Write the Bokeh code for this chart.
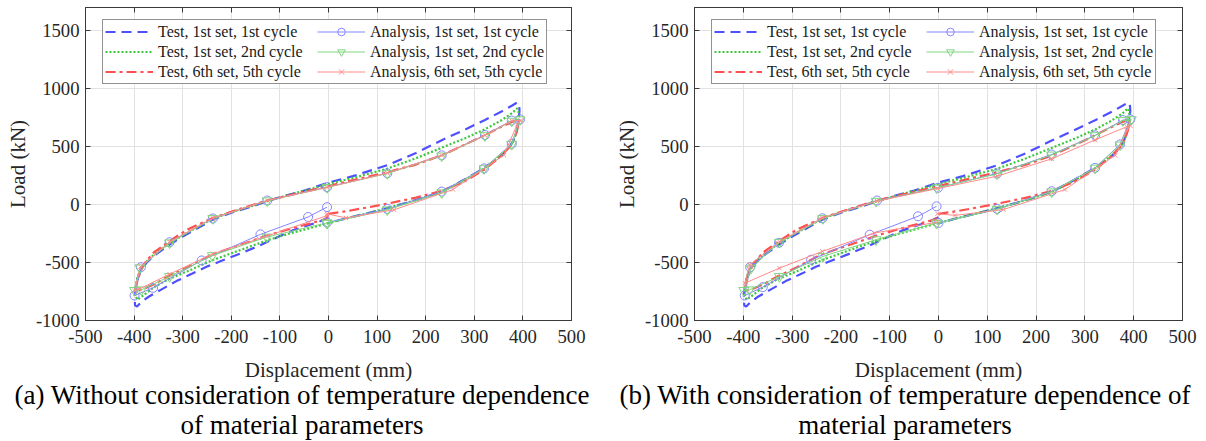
from bokeh.plotting import figure
from bokeh.models import Range1d, FixedTicker, LinearAxis, Legend, LegendItem, Div
from bokeh.layouts import row, column
from bokeh.embed import file_html
from bokeh.resources import INLINE

# ---------------- data ----------------
X_TICKS = [-500, -400, -300, -200, -100, 0, 100, 200, 300, 400, 500]
X_TICK_LABELS = ["-500", "-400", "-300", "-200", "-100", "0", "100", "200", "300", "400", "500"]
Y_TICKS = [-1000, -500, 0, 500, 1000, 1500]
Y_TICK_LABELS = ["-1000", "-500", "0", "500", "1000", "1500"]

SERIES_NAMES = ["Test, 1st set, 1st cycle", "Test, 1st set, 2nd cycle", "Test, 6th set, 5th cycle",
                "Analysis, 1st set, 1st cycle", "Analysis, 1st set, 2nd cycle", "Analysis, 6th set, 5th cycle"]

# Test curves (same in both panels)
test1_x = [0, -20, -45, -75, -110, -141, -180, -220, -250, -280, -313, -347, -370, -385, -394, -398, -399, -397,
           -392, -385, -372, -355, -327, -300, -270, -238, -200, -160, -126, -90, -50, 0, 50, 121, 180, 233, 280,
           322, 355, 378, 388, 392, 393, 391, 387, 380, 370, 355, 335, 320, 290, 260, 233, 200, 160, 121, 80, 40, 0]
test1_y = [-110, -150, -182, -225, -290, -352, -420, -485, -535, -595, -660, -740, -795, -840, -880, -870, -800,
           -720, -630, -560, -490, -430, -345, -275, -205, -130, -70, -20, 30, 75, 120, 190, 245, 340, 445, 555,
           645, 730, 800, 855, 880, 870, 810, 720, 630, 550, 480, 420, 360, 315, 240, 170, 112, 65, 15, -30, -75,
           -115, -160]

test2_x = [0, -40, -80, -127, -180, -239, -290, -330, -360, -383, -393, -397, -397, -393, -385, -370, -350, -327,
           -300, -270, -238, -200, -160, -126, -80, -40, 0, 60, 121, 180, 233, 280, 322, 355, 378, 388, 391, 391,
           389, 384, 377, 362, 342, 320, 290, 260, 233, 200, 160, 121, 80, 40, 0]
test2_y = [-160, -205, -250, -310, -390, -480, -575, -645, -715, -790, -820, -790, -710, -620, -550, -470, -400,
           -335, -265, -195, -122, -65, -15, 30, 85, 130, 178, 240, 310, 400, 490, 570, 650, 725, 790, 830, 800,
           740, 670, 590, 525, 450, 380, 310, 235, 170, 110, 65, 15, -30, -75, -115, -160]

test6_x = [0, 40, 80, 121, 180, 233, 280, 320, 350, 378, 388, 392, 382, 355, 322, 280, 233, 180, 121, 60, 0, -60,
           -126, -180, -238, -290, -327, -360, -380, -392, -398, -385, -360, -330, -290, -240, -180, -130, -80, -40,
           -5, 0]
test6_y = [-80, -55, -25, 8, 60, 118, 200, 300, 400, 520, 640, 730, 722, 670, 600, 515, 425, 345, 280, 220, 160,
           100, 35, -35, -115, -215, -315, -415, -515, -635, -745, -735, -690, -620, -540, -430, -345, -272, -210,
           -165, -125, -80]

# Analysis (a) without temperature dependence
a1_x = [-3, -42, -140, -261, -361, -399, -386, -327, -238, -126, -3, 121, 233, 322, 377, 394, 377, 320, 233, 121, -3]
a1_y = [-22, -107, -257, -482, -718, -785, -540, -325, -120, 35, 150, 270, 425, 600, 725, 735, 525, 312, 112, -38,
        -155]
a2_x = [-3, -127, -239, -327, -385, -399, -388, -327, -238, -126, -3, 121, 233, 322, 377, 394, 377, 320, 233, 121, -3]
a2_y = [-158, -280, -440, -620, -735, -740, -545, -330, -120, 33, 148, 268, 420, 595, 720, 732, 520, 310, 102, -45,
        -160]
a6_x = [-3, 36, 135, 256, 361, 388, 396, 377, 322, 233, 121, -3, -126, -238, -327, -387, -399, -390, -327, -238,
        -127, -3]
a6_y = [-80, -115, -45, 130, 426, 690, 725, 722, 598, 425, 272, 148, 35, -118, -322, -535, -745, -730, -600, -425,
        -272, -95]

# Analysis (b) with temperature dependence
b1_x = [-4, -42, -141, -261, -360, -397, -386, -327, -238, -126, -1, 120, 232, 321, 378, 393, 372, 321, 232, 120, 0]
b1_y = [-15, -101, -260, -476, -712, -784, -540, -330, -118, 35, 145, 268, 432, 597, 729, 735, 519, 317, 115, -37,
        -158]
b2_x = [-4, -128, -237, -326, -387, -399, -384, -326, -237, -128, -4, 120, 232, 321, 378, 395, 372, 321, 232, 120, -4]
b2_y = [-160, -303, -447, -620, -735, -740, -548, -325, -120, 29, 144, 265, 428, 595, 725, 733, 515, 315, 110, -40,
        -160]
b6_x = [-2, 34, 133, 259, 362, 386, 393, 386, 321, 232, 120, -2, -126, -238, -326, -387, -397, -326, -238, -131, -4]
b6_y = [-80, -93, -43, 130, 424, 640, 680, 672, 558, 395, 245, 138, 30, -115, -320, -520, -678, -548, -404, -245,
        -153]

CAPTION_A = ["(a) Without consideration of temperature dependence", "of material parameters"]
CAPTION_B = ["(b) With consideration of temperature dependence of", "material parameters"]

FONT = "Liberation Serif"
FRAME = "#3a3a3a"


def make_panel(frame_w, bl, br, analysis):
    p = figure(frame_width=frame_w, frame_height=313, x_range=Range1d(-500, 500), y_range=Range1d(-1000, 1700),
               output_backend="svg", toolbar_location=None,
               min_border_left=bl, min_border_right=br, min_border_top=7, min_border_bottom=61)
    p.background_fill_color = "white"
    p.outline_line_color = FRAME
    p.outline_line_width = 1

    for ax, ticks, labels in ((p.xaxis[0], X_TICKS, X_TICK_LABELS), (p.yaxis[0], Y_TICKS, Y_TICK_LABELS)):
        ax.ticker = FixedTicker(ticks=ticks)
        ax.major_label_overrides = {t: l for t, l in zip(ticks, labels)}
        ax.major_label_text_font = FONT
        ax.major_label_text_font_size = "18.7px"
        ax.major_label_text_color = "#262626"
        ax.axis_label_text_font = FONT
        ax.axis_label_text_font_style = "normal"
        ax.axis_label_text_font_size = "21px"
        ax.axis_label_text_color = "#262626"
        ax.axis_line_color = FRAME
        ax.major_tick_line_color = FRAME
        ax.major_tick_in = 5
        ax.major_tick_out = 0
        ax.minor_tick_line_color = None
    p.xaxis.axis_label = "Displacement (mm)"
    p.yaxis.axis_label = "Load (kN)"
    p.xaxis.major_label_standoff = 9
    p.xaxis.axis_label_standoff = 12
    p.yaxis.major_label_standoff = 6
    p.yaxis.axis_label_standoff = 3

    for ticks, side in ((X_TICKS, "above"), (Y_TICKS, "right")):
        ax = LinearAxis(ticker=FixedTicker(ticks=ticks), major_label_text_font_size="0px",
                        major_label_standoff=0, major_tick_in=5, major_tick_out=0,
                        major_label_overrides={t: "" for t in ticks},
                        axis_line_color=FRAME, major_tick_line_color=FRAME, minor_tick_line_color=None)
        p.add_layout(ax, side)

    p.xgrid.ticker = FixedTicker(ticks=X_TICKS)
    p.ygrid.ticker = FixedTicker(ticks=Y_TICKS)
    p.grid.grid_line_color = "#e2e2e2"
    p.grid.grid_line_width = 1

    r_t1 = p.line(test1_x, test1_y, line_color="#4f4fff", line_width=2.2, line_dash="10 6")
    r_t2 = p.line(test2_x, test2_y, line_color="#3cc83c", line_width=2.2, line_dash="2 2")
    r_t6 = p.line(test6_x, test6_y, line_color="#ff4f4f", line_width=2.2, line_dash="10 4 3 4")

    (x1, y1), (x2, y2), (x6, y6) = analysis
    l1 = p.line(x1, y1, line_color="#8585ff", line_width=1)
    m1 = p.scatter(x1, y1, marker="circle", size=9, line_color="#8585ff", fill_color=None, line_width=1)
    l2 = p.line(x2, y2, line_color="#7fd67f", line_width=1)
    m2 = p.scatter(x2, y2, marker="inverted_triangle", size=10, line_color="#7fd67f", fill_color=None, line_width=1)
    l6 = p.line(x6, y6, line_color="#ff8a8a", line_width=1)
    m6 = p.scatter(x6, y6, marker="x", size=6, line_color="#ff8a8a", line_width=1)

    items = [LegendItem(label=SERIES_NAMES[0], renderers=[r_t1]),
             LegendItem(label=SERIES_NAMES[1], renderers=[r_t2]),
             LegendItem(label=SERIES_NAMES[2], renderers=[r_t6]),
             LegendItem(label=SERIES_NAMES[3], renderers=[l1, m1]),
             LegendItem(label=SERIES_NAMES[4], renderers=[l2, m2]),
             LegendItem(label=SERIES_NAMES[5], renderers=[l6, m6])]
    leg = Legend(items=items, location=(17, 236), nrows=3, orientation="vertical",
                 margin=0, padding=2, spacing=1, glyph_width=48, glyph_height=19, label_height=19,
                 label_width=158, label_standoff=5, label_text_font=FONT, label_text_font_size="16px",
                 label_text_color="#1a1a1a", border_line_color="#262626", border_line_width=1,
                 background_fill_color="white", background_fill_alpha=1)
    p.add_layout(leg)
    return p


def caption_line(text, width, top_margin):
    html = ('<div style="font-family: \'Liberation Serif\', serif; font-size: 27px; line-height: 30px; '
            'text-align: center; color: black; white-space: nowrap;">%s</div>' % text)
    return Div(text=html, width=width, height=30, margin=(top_margin, 0, 0, 0),
               styles={"text-align": "center", "font-family": "Liberation Serif"})


def caption_block(lines, width):
    return column(caption_line(lines[0], width, -4), caption_line(lines[1], width, 0), spacing=0)


pa = make_panel(486, 85, 29, ((a1_x, a1_y), (a2_x, a2_y), (a6_x, a6_y)))
pb = make_panel(488, 94, 18, ((b1_x, b1_y), (b2_x, b2_y), (b6_x, b6_y)))

ca = caption_block(CAPTION_A, 604)
cb = caption_block(CAPTION_B, 602)

layout = column(row(pa, pb, spacing=0), row(ca, cb, spacing=0), spacing=0)
open("out.html", "w").write(file_html(layout, INLINE))
